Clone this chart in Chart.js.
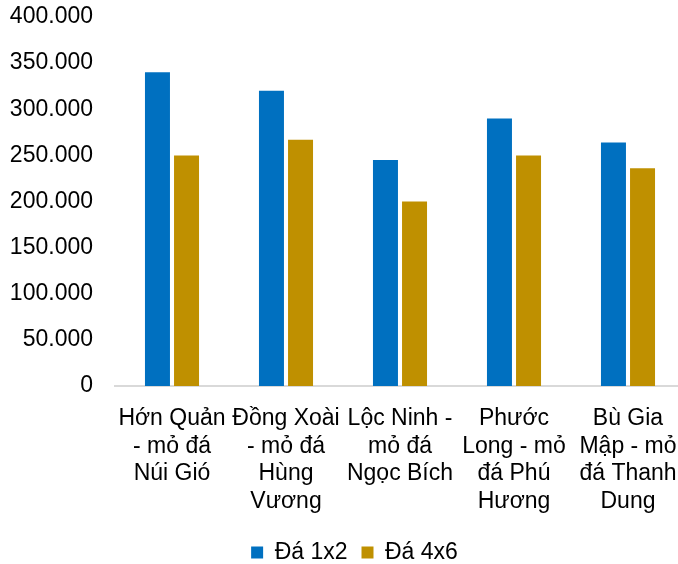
<!DOCTYPE html>
<html>
<head>
<meta charset="utf-8">
<script src="https://cdn.jsdelivr.net/npm/chart.js@4/dist/chart.umd.min.js"></script>
<style>
  html, body { margin: 0; padding: 0; background: #fff; overflow: hidden; }
  #wrap { width: 700px; height: 564px; }
</style>
</head>
<body>
<div id="wrap"><canvas id="grafico"></canvas></div>
<script>
// nhãn trục X (đã xuống dòng như hình gốc)
const categorias = [
  ['Hớn Quản', '- mỏ đá', 'Núi Gió'],
  ['Đồng Xoài', '- mỏ đá', 'Hùng', 'Vương'],
  ['Lộc Ninh -', 'mỏ đá', 'Ngọc Bích'],
  ['Phước', 'Long - mỏ', 'đá Phú', 'Hương'],
  ['Bù Gia', 'Mập - mỏ', 'đá Thanh', 'Dung']
];
const da1x2 = [340000, 320000, 245000, 290000, 264000];
const da4x6 = [250000, 267000, 200000, 250000, 236000];
const yMax = 400000;
const yStep = 50000;

Chart.defaults.font.family = "'Liberation Sans', Arial, sans-serif";
Chart.defaults.font.size = 23;
Chart.defaults.color = '#000';

function formatar(v) {
  return String(v).replace(/\B(?=(\d{3})+(?!\d))/g, '.');
}

// ajusta a posição da legenda (um pouco à direita e mais pra baixo)
const moverLegenda = {
  id: 'moverLegenda',
  afterLayout(chart) {
    const lg = chart.legend;
    lg.left += 12;
    lg.right += 12;
    lg.top += 10;
    lg.bottom += 10;
  }
};

new Chart(document.getElementById('grafico'), {
  type: 'bar',
  data: {
    labels: categorias,
    datasets: [
      { label: 'Đá 1x2', data: da1x2, backgroundColor: '#0070c0' },
      { label: 'Đá 4x6', data: da4x6, backgroundColor: '#bf9000' }
    ]
  },
  options: {
    responsive: true,
    maintainAspectRatio: false,
    animation: false,
    layout: { padding: { left: 0, right: 15, top: 0, bottom: 0 } },
    datasets: { bar: { categoryPercentage: 0.51, barPercentage: 0.86 } },
    plugins: {
      tooltip: { enabled: false },
      legend: {
        position: 'bottom',
        labels: { boxWidth: 12, boxHeight: 12, padding: 14 }
      }
    },
    scales: {
      x: {
        grid: { display: false, drawTicks: false },
        border: { color: '#d9d9d9', width: 2 },
        ticks: { maxRotation: 0, autoSkip: false, padding: 19 },
        afterFit: s => { s.height = 131; }
      },
      y: {
        min: 0,
        max: yMax,
        grid: { display: false, drawTicks: false },
        border: { display: false },
        ticks: { stepSize: yStep, padding: 22, callback: v => formatar(v) },
        afterFit: s => {
          s.width = 115;
          s.paddingTop = 17;
          s.paddingBottom = 0;
        }
      }
    }
  },
  plugins: [moverLegenda]
});
</script>
</body>
</html>
